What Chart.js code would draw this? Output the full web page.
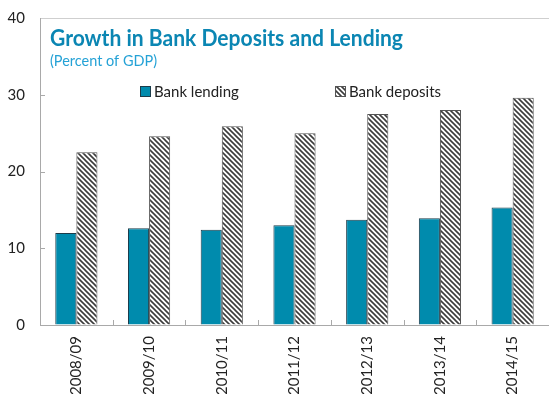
<!DOCTYPE html>
<html>
<head>
<meta charset="utf-8">
<script src="https://cdn.jsdelivr.net/npm/chart.js@4"></script>
<style>
  html, body { margin: 0; padding: 0; background: #ffffff; }
  #wrap { width: 549px; height: 394px; }
</style>
</head>
<body>
<div id="wrap"><canvas id="c" width="549" height="394"></canvas></div>
<script>
// Fiscal years on the category axis
const years = ['2008/09', '2009/10', '2010/11', '2011/12', '2012/13', '2013/14', '2014/15'];
// Percent of GDP
const bankLending  = [12.0, 12.6, 12.4, 13.0, 13.7, 13.9, 15.3];
const bankDeposits = [22.5, 24.6, 25.9, 25.0, 27.5, 28.0, 29.6];
const yTicks = [0, 10, 20, 30, 40];
const seriesNames = ['Bank lending', 'Bank deposits'];
const titleText = 'Growth in Bank Deposits and Lending';
const subtitleText = '(Percent of GDP)';

const FONT = 'Lato, "Open Sans", sans-serif';
const AXIS_GRAY = '#a9a9a9';

// Diagonal hatch fill for the deposits series
function makeHatch() {
  const s = 5;
  const tile = document.createElement('canvas');
  tile.width = s; tile.height = s;
  const g = tile.getContext('2d');
  g.fillStyle = '#ffffff';
  g.fillRect(0, 0, s, s);
  g.strokeStyle = '#3c3c3c';
  g.lineWidth = 1.6;
  g.beginPath();
  g.moveTo(-1, -1); g.lineTo(s + 1, s + 1);
  g.moveTo(-1, s - 1); g.lineTo(1, s + 1);
  g.moveTo(s - 1, -1); g.lineTo(s + 1, 1);
  g.stroke();
  return g.createPattern(tile, 'repeat');
}
const hatch = makeHatch();

// Small inward tick marks, title, subtitle and legend inside the plot box
const decorations = {
  id: 'decorations',
  afterDraw(chart) {
    const { ctx, scales: { x, y } } = chart;
    const area = chart.chartArea;
    ctx.save();
    ctx.strokeStyle = AXIS_GRAY;
    ctx.lineWidth = 1;
    ctx.beginPath();
    yTicks.forEach(v => {
      if (v === 0 || v === 40) return;
      const py = Math.round(y.getPixelForValue(v)) + 0.5;
      ctx.moveTo(area.left, py); ctx.lineTo(area.left + 5, py);
    });
    for (let i = 0; i < years.length - 1; i++) {
      const px = Math.round((x.getPixelForValue(i) + x.getPixelForValue(i + 1)) / 2) + 0.5;
      ctx.moveTo(px, area.bottom); ctx.lineTo(px, area.bottom - 5);
    }
    ctx.stroke();

    // Title block
    ctx.textAlign = 'left';
    ctx.textBaseline = 'alphabetic';
    ctx.fillStyle = '#0b86b3';
    ctx.font = 'bold 22px ' + FONT;
    ctx.fillText(titleText, 50, 46, 353);
    ctx.fillStyle = '#25a2d6';
    ctx.font = '15px ' + FONT;
    ctx.fillText(subtitleText, 50, 66, 107);

    // Legend
    const legendX = [140, 335];
    ctx.font = '15px ' + FONT;
    ctx.textBaseline = 'middle';
    chart.data.datasets.forEach((ds, i) => {
      const bx = legendX[i], by = 86;
      ctx.fillStyle = ds.backgroundColor;
      ctx.fillRect(bx, by, 11, 11);
      ctx.strokeStyle = ds.borderColor;
      ctx.lineWidth = 1;
      ctx.strokeRect(bx + 0.5, by + 0.5, 10, 10);
      ctx.fillStyle = '#222222';
      ctx.fillText(ds.label, bx + 14, by + 6, i === 0 ? 86 : 93);
    });
    ctx.restore();
  }
};

new Chart(document.getElementById('c'), {
  type: 'bar',
  data: {
    labels: years,
    datasets: [
      {
        label: seriesNames[0],
        data: bankLending,
        backgroundColor: '#008bad',
        borderColor: '#1c3c4a',
        borderWidth: 1,
        categoryPercentage: 0.58,
        barPercentage: 1.0
      },
      {
        label: seriesNames[1],
        data: bankDeposits,
        backgroundColor: hatch,
        borderColor: '#555555',
        borderWidth: 1,
        categoryPercentage: 0.58,
        barPercentage: 1.0
      }
    ]
  },
  options: {
    responsive: false,
    animation: false,
    devicePixelRatio: 1,
    layout: { padding: { top: 18, right: 0, bottom: 0, left: 0 } },
    plugins: {
      legend: { display: false },
      title: { display: false },
      tooltip: { enabled: false }
    },
    scales: {
      x: {
        grid: { display: true, color: 'transparent', drawTicks: false },
        border: { display: true, color: AXIS_GRAY, width: 1 },
        ticks: {
          minRotation: 90, maxRotation: 90, padding: 11,
          color: '#222222', font: { family: FONT, size: 15 }
        },
        afterFit(scale) { scale.height = 69; scale.paddingLeft = 0; scale.paddingRight = 0; }
      },
      y: {
        min: 0, max: 40,
        afterBuildTicks(scale) { scale.ticks = yTicks.map(v => ({ value: v })); },
        grid: {
          drawTicks: false,
          color: c => (c.tick && c.tick.value === 40 ? '#cfcfcf' : 'transparent')
        },
        border: { display: true, color: AXIS_GRAY, width: 1 },
        ticks: { padding: 15, color: '#222222', font: { family: FONT, size: 15 } },
        afterFit(scale) { scale.width = 40; scale.paddingTop = 0; scale.paddingBottom = 0; }
      }
    }
  },
  plugins: [decorations]
});
</script>
</body>
</html>
